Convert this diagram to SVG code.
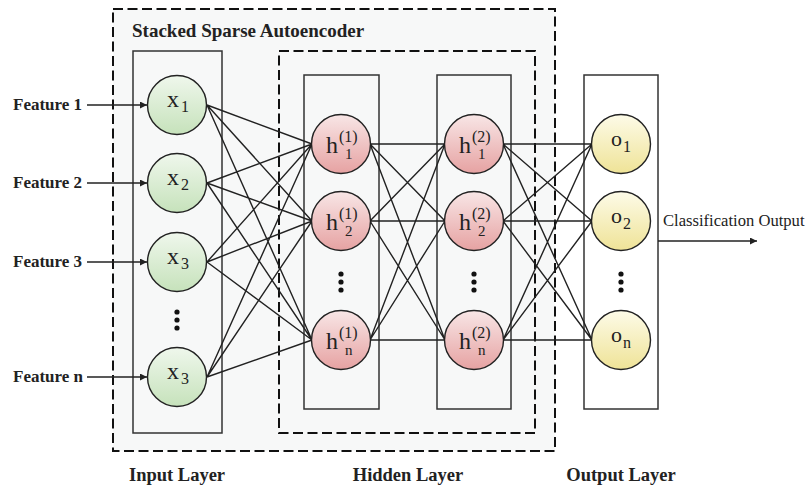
<svg xmlns="http://www.w3.org/2000/svg" width="811" height="487" viewBox="0 0 811 487">
<defs>
<linearGradient id="gG" x1="0" y1="0" x2="0" y2="1"><stop offset="0" stop-color="#eff7ec"/><stop offset="1" stop-color="#c6e2bb"/></linearGradient>
<linearGradient id="gR" x1="0" y1="0" x2="0" y2="1"><stop offset="0" stop-color="#f8e6e6"/><stop offset="1" stop-color="#e6a2a2"/></linearGradient>
<linearGradient id="gY" x1="0" y1="0" x2="0" y2="1"><stop offset="0" stop-color="#fdfbe8"/><stop offset="1" stop-color="#efe397"/></linearGradient>
<marker id="arr" viewBox="0 0 10 10" refX="10" refY="5" markerWidth="7" markerHeight="7" markerUnits="userSpaceOnUse" orient="auto"><path d="M0,0 L10,5 L0,10 z" fill="#222"/></marker>
<style>
.dash{fill:none;stroke:#111;stroke-width:2;stroke-dasharray:10 4.5}
.layer{fill:none;stroke:#333;stroke-width:1.5}
.node{stroke:#222;stroke-width:1.4}
.c{stroke:#222;stroke-width:1.4;fill:none}
.lbl{font-family:"Liberation Serif",serif;fill:#222}
.b{font-weight:bold}
.dot{fill:#111}
</style>
</defs>
<rect width="811" height="487" fill="#ffffff"/>
<rect x="113" y="9" width="442" height="442" fill="#f7f8f8"/>
<g id="boxes">
<rect class="dash" x="113" y="9" width="442" height="442"/>
<rect class="dash" x="279" y="51" width="256" height="382"/>
<rect class="layer" x="133" y="51" width="89" height="382"/>
<rect class="layer" x="304" y="75" width="75" height="334"/>
<rect class="layer" x="437" y="75" width="74" height="334"/>
<rect class="layer" x="584" y="75" width="74" height="334"/>
</g>
<text class="lbl b" x="132" y="37" font-size="19">Stacked Sparse Autoencoder</text>
<g id="connectors">
<path class="c" d="M207,105 L312,144 M207,105 L312,221 M207,105 L312,340
M207,183 L312,144 M207,183 L312,221 M207,183 L312,340
M207,262 L312,144 M207,262 L312,221 M207,262 L312,340
M207,377 L312,144 M207,377 L312,221 M207,377 L312,340"/>
<path class="c" d="M370,144 L445,144 M370,144 L445,221 M370,144 L445,340
M370,221 L445,144 M370,221 L445,221 M370,221 L445,340
M370,340 L445,144 M370,340 L445,221 M370,340 L445,340"/>
<path class="c" d="M503,144 L592,144 M503,144 L592,221 M503,144 L592,340
M503,221 L592,144 M503,221 L592,221 M503,221 L592,340
M503,340 L592,144 M503,340 L592,221 M503,340 L592,340"/>
<path class="c" marker-end="url(#arr)" d="M87,105 L147,105"/>
<path class="c" marker-end="url(#arr)" d="M87,183 L147,183"/>
<path class="c" marker-end="url(#arr)" d="M87,262 L147,262"/>
<path class="c" marker-end="url(#arr)" d="M87,377 L147,377"/>
<path class="c" marker-end="url(#arr)" d="M658,241 L757,241"/>
</g>
<g id="feature-labels">
<text class="lbl b" x="13" y="110" font-size="17">Feature 1</text>
<text class="lbl b" x="13" y="188" font-size="17">Feature 2</text>
<text class="lbl b" x="13" y="267" font-size="17">Feature 3</text>
<text class="lbl b" x="13" y="382" font-size="17">Feature n</text>
</g>
<g id="x1"><circle class="node" cx="177" cy="105" r="29.5" fill="url(#gG)"/><text class="lbl" x="167" y="107" font-size="24">x</text><text class="lbl" x="181" y="112" font-size="16">1</text></g>
<g id="x2"><circle class="node" cx="177" cy="183" r="29.5" fill="url(#gG)"/><text class="lbl" x="167" y="185" font-size="24">x</text><text class="lbl" x="181" y="190" font-size="16">2</text></g>
<g id="x3"><circle class="node" cx="177" cy="262" r="29.5" fill="url(#gG)"/><text class="lbl" x="167" y="264" font-size="24">x</text><text class="lbl" x="181" y="269" font-size="16">3</text></g>
<g id="xn"><circle class="node" cx="177" cy="377" r="29.5" fill="url(#gG)"/><text class="lbl" x="167" y="379" font-size="24">x</text><text class="lbl" x="181" y="384" font-size="16">3</text></g>
<g id="x-dots"><circle class="dot" cx="177" cy="312" r="2.6"/><circle class="dot" cx="177" cy="320" r="2.6"/><circle class="dot" cx="177" cy="328" r="2.6"/></g>
<g id="h1-1"><circle class="node" cx="341" cy="144" r="29.5" fill="url(#gR)"/><text class="lbl" x="326" y="153" font-size="24">h</text><text class="lbl" x="339" y="142" font-size="16">(1)</text><text class="lbl" x="345" y="159" font-size="15">1</text></g>
<g id="h1-2"><circle class="node" cx="341" cy="221" r="29.5" fill="url(#gR)"/><text class="lbl" x="326" y="230" font-size="24">h</text><text class="lbl" x="339" y="219" font-size="16">(1)</text><text class="lbl" x="345" y="236" font-size="15">2</text></g>
<g id="h1-n"><circle class="node" cx="341" cy="340" r="29.5" fill="url(#gR)"/><text class="lbl" x="326" y="349" font-size="24">h</text><text class="lbl" x="339" y="338" font-size="16">(1)</text><text class="lbl" x="345" y="355" font-size="15">n</text></g>
<g id="h1-dots"><circle class="dot" cx="341" cy="274" r="2.6"/><circle class="dot" cx="341" cy="282" r="2.6"/><circle class="dot" cx="341" cy="290" r="2.6"/></g>
<g id="h2-1"><circle class="node" cx="474" cy="144" r="29.5" fill="url(#gR)"/><text class="lbl" x="459" y="153" font-size="24">h</text><text class="lbl" x="472" y="142" font-size="16">(2)</text><text class="lbl" x="478" y="159" font-size="15">1</text></g>
<g id="h2-2"><circle class="node" cx="474" cy="221" r="29.5" fill="url(#gR)"/><text class="lbl" x="459" y="230" font-size="24">h</text><text class="lbl" x="472" y="219" font-size="16">(2)</text><text class="lbl" x="478" y="236" font-size="15">2</text></g>
<g id="h2-n"><circle class="node" cx="474" cy="340" r="29.5" fill="url(#gR)"/><text class="lbl" x="459" y="349" font-size="24">h</text><text class="lbl" x="472" y="338" font-size="16">(2)</text><text class="lbl" x="478" y="355" font-size="15">n</text></g>
<g id="h2-dots"><circle class="dot" cx="474" cy="274" r="2.6"/><circle class="dot" cx="474" cy="282" r="2.6"/><circle class="dot" cx="474" cy="290" r="2.6"/></g>
<g id="o1"><circle class="node" cx="621" cy="144" r="29.5" fill="url(#gY)"/><text class="lbl" x="611" y="146" font-size="22">o</text><text class="lbl" x="623" y="152" font-size="16">1</text></g>
<g id="o2"><circle class="node" cx="621" cy="221" r="29.5" fill="url(#gY)"/><text class="lbl" x="611" y="223" font-size="22">o</text><text class="lbl" x="623" y="229" font-size="16">2</text></g>
<g id="on"><circle class="node" cx="621" cy="340" r="29.5" fill="url(#gY)"/><text class="lbl" x="611" y="342" font-size="22">o</text><text class="lbl" x="623" y="348" font-size="16">n</text></g>
<g id="o-dots"><circle class="dot" cx="621" cy="274" r="2.6"/><circle class="dot" cx="621" cy="282" r="2.6"/><circle class="dot" cx="621" cy="290" r="2.6"/></g>
<text class="lbl" x="663" y="226" font-size="16.6">Classification Output</text>
<g id="layer-labels">
<text class="lbl b" x="177" y="481" font-size="18.5" text-anchor="middle">Input Layer</text>
<text class="lbl b" x="408" y="481" font-size="18.5" text-anchor="middle">Hidden Layer</text>
<text class="lbl b" x="621" y="481" font-size="18.5" text-anchor="middle">Output Layer</text>
</g>
</svg>
